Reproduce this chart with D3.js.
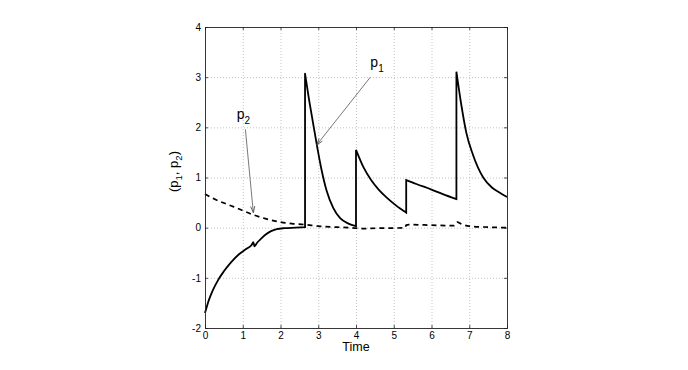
<!DOCTYPE html>
<html>
<head>
<meta charset="utf-8">
<script src="https://cdn.jsdelivr.net/npm/d3@7"></script>
<style>
  body { margin: 0; background: #fff; }
  text { font-family: "Liberation Sans", Arial, sans-serif; fill: #000; }
</style>
</head>
<body>
<div id="chart"></div>
<script>
// tick values
var xTicks = [0, 1, 2, 3, 4, 5, 6, 7, 8];
var yTicks = [-2, -1, 0, 1, 2, 3, 4];

// p1 (solid), a repeated time means a jump
var p1Time = [0, 0.1, 0.2, 0.35, 0.5, 0.7, 0.9, 1.1, 1.24, 1.28, 1.31, 1.38, 1.5, 1.6, 1.75, 1.9, 2.1, 2.4, 2.65,
              2.65, 2.75, 2.85, 2.96, 3.08, 3.22, 3.4, 3.58, 3.8, 4.0,
              4.0, 4.2, 4.4, 4.6, 4.8, 5.0, 5.17, 5.33,
              5.33, 5.6, 6.0, 6.3, 6.66,
              6.66, 6.8, 6.92, 7.1, 7.37, 7.6, 7.8, 8.0];
var p1Value = [-1.70, -1.45, -1.26, -1.04, -0.87, -0.68, -0.53, -0.42, -0.34, -0.29, -0.37, -0.30, -0.21, -0.14, -0.07, -0.03, -0.01, 0.0, 0.01,
               3.07, 2.58, 2.14, 1.66, 1.18, 0.74, 0.39, 0.19, 0.08, 0.03,
               1.55, 1.2, 0.95, 0.76, 0.61, 0.48, 0.38, 0.3,
               0.95, 0.87, 0.76, 0.67, 0.57,
               3.11, 2.4, 1.9, 1.45, 1.0, 0.8, 0.7, 0.61];

// p2 (dashed)
var p2Time = [0, 0.25, 0.5, 0.75, 1.0, 1.3, 1.6, 2.0, 2.3, 2.65, 3.0, 3.5, 4.0, 4.1, 4.6, 5.3,
              5.33, 5.4, 6.0, 6.6, 6.68, 6.8, 7.0, 7.5, 8.0];
var p2Value = [0.67, 0.57, 0.49, 0.42, 0.34, 0.25, 0.18, 0.11, 0.08, 0.06, 0.03, 0.01, -0.01, -0.02, -0.01, -0.005,
               0.05, 0.06, 0.05, 0.04, 0.11, 0.07, 0.03, 0.01, 0.0];

var W = 688, H = 370;
var margin = {top: 27, right: 181, bottom: 42, left: 205};
var width = W - margin.left - margin.right,
    height = H - margin.top - margin.bottom;

var svg = d3.select("#chart").append("svg")
            .attr("width", W)
            .attr("height", H);

var g = svg.append("g")
           .attr("transform", "translate(" + margin.left + "," + margin.top + ")");

var x = d3.scaleLinear().domain([0, 8]).range([0, width]);
var y = d3.scaleLinear().domain([-2, 4]).range([height, 0]);

// grid
g.append("g")
 .attr("class", "grid")
 .call(d3.axisBottom(x).tickValues(xTicks).tickSize(height).tickFormat(""))
 .call(function(s) { s.select(".domain").remove(); });
g.append("g")
 .attr("class", "grid")
 .call(d3.axisLeft(y).tickValues(yTicks).tickSize(-width).tickFormat(""))
 .call(function(s) { s.select(".domain").remove(); });
g.selectAll(".grid line")
 .attr("stroke", "#b4b4b4")
 .attr("stroke-width", 0.8)
 .attr("stroke-dasharray", "1,2");

// split series into pieces at jumps and join them into one path
function buildPath(times, values) {
	let pieces = [];
	let cur = [];
	for (let i = 0; i < times.length; i++) {
		if (i > 0 && times[i] === times[i - 1]) {
			pieces.push(cur);
			cur = [];
		}
		cur.push([times[i], values[i]]);
	}
	pieces.push(cur);
	let line = d3.line()
	             .x(function(d) { return x(d[0]); })
	             .y(function(d) { return y(d[1]); })
	             .curve(d3.curveMonotoneX);
	let d = "";
	pieces.forEach(function(p, i) {
		let s = line(p);
		d += (i === 0) ? s : "L" + s.slice(1);
	});
	return d;
}

g.append("path")
 .attr("d", buildPath(p2Time, p2Value))
 .attr("fill", "none")
 .attr("stroke", "#000")
 .attr("stroke-width", 1.7)
 .attr("stroke-dasharray", "5,4");

g.append("path")
 .attr("d", buildPath(p1Time, p1Value))
 .attr("fill", "none")
 .attr("stroke", "#000")
 .attr("stroke-width", 1.8)
 .attr("stroke-linejoin", "miter");

// axes, ticks pointing inward
var fmt = function(d) { return d < 0 ? "-" + Math.abs(d) : d; };

var xAxis = g.append("g")
             .attr("transform", "translate(0," + height + ")")
             .call(d3.axisBottom(x).tickValues(xTicks).tickSize(-3).tickPadding(4).tickFormat(fmt));
var xTop = g.append("g")
            .call(d3.axisTop(x).tickValues(xTicks).tickSize(-3).tickFormat(""));
var yAxis = g.append("g")
             .call(d3.axisLeft(y).tickValues(yTicks).tickSize(-3).tickPadding(4).tickFormat(fmt));
var yRight = g.append("g")
              .attr("transform", "translate(" + width + ",0)")
              .call(d3.axisRight(y).tickValues(yTicks).tickSize(-3).tickFormat(""));

[xAxis, xTop, yAxis, yRight].forEach(function(a) {
	a.select(".domain").attr("stroke", "#222").attr("stroke-width", 0.9);
	a.selectAll(".tick line").attr("stroke", "#222").attr("stroke-width", 0.8);
	a.selectAll("text")
	 .style("font-family", "'Liberation Sans', Arial, sans-serif")
	 .style("font-size", "10px")
	 .attr("fill", "#000");
});

// axis titles
g.append("text")
 .attr("x", width / 2)
 .attr("y", height + 23)
 .attr("text-anchor", "middle")
 .style("font-size", "12.5px")
 .text("Time");

var yl = g.append("text")
          .attr("transform", "translate(-27," + (height / 2 - 6) + ") rotate(-90)")
          .attr("text-anchor", "middle")
          .style("font-size", "13px");
yl.append("tspan").text("(p");
yl.append("tspan").attr("dy", 4).style("font-size", "9.5px").text("1");
yl.append("tspan").attr("dy", -4).text(", p");
yl.append("tspan").attr("dy", 4).style("font-size", "9.5px").text("2");
yl.append("tspan").attr("dy", -4).text(")");

// annotations (positions in data units)
var labels = [
	{main: "p", sub: "1", t: 4.38, v: 3.2},
	{main: "p", sub: "2", t: 0.84, v: 2.16}
];
var arrows = [
	{t1: 4.38, v1: 3.0, t2: 2.96, v2: 1.65},
	{t1: 1.07, v1: 1.96, t2: 1.28, v2: 0.30}
];

svg.append("defs").append("marker")
   .attr("id", "head")
   .attr("viewBox", "-10 -5 12 10")
   .attr("refX", 0)
   .attr("refY", 0)
   .attr("markerWidth", 10)
   .attr("markerHeight", 8)
   .attr("markerUnits", "userSpaceOnUse")
   .attr("orient", "auto")
   .append("path")
   .attr("d", "M-8,-2.6L0,0L-8,2.6")
   .attr("fill", "none")
   .attr("stroke", "#444")
   .attr("stroke-width", 1);

g.selectAll(".arrow")
 .data(arrows)
 .enter()
 .append("line")
 .attr("class", "arrow")
 .attr("x1", function(d) { return x(d.t1); })
 .attr("y1", function(d) { return y(d.v1); })
 .attr("x2", function(d) { return x(d.t2); })
 .attr("y2", function(d) { return y(d.v2); })
 .attr("stroke", "#555")
 .attr("stroke-width", 0.8)
 .attr("marker-end", "url(#head)");

labels.forEach(function(l) {
	let t = g.append("text")
	         .attr("x", x(l.t))
	         .attr("y", y(l.v))
	         .style("font-size", "14px");
	t.append("tspan").text(l.main);
	t.append("tspan").attr("dy", 5).style("font-size", "10px").text(l.sub);
});
</script>
</body>
</html>
